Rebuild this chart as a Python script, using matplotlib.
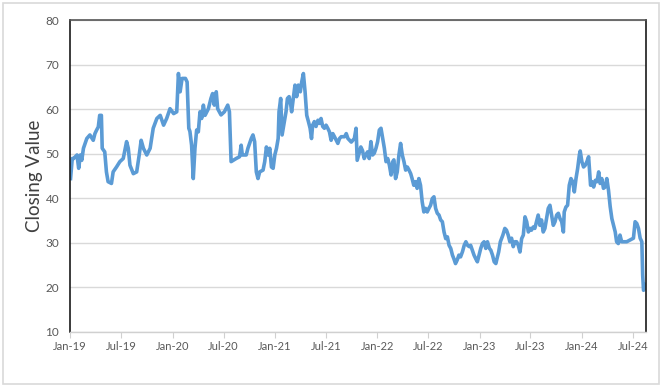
import pandas as pd
import matplotlib
matplotlib.use("Agg")
import matplotlib.pyplot as plt
import matplotlib.dates as mdates
from matplotlib.patches import Rectangle

# closing values
dates = [
    "2019-01-02", "2019-01-08", "2019-01-13", "2019-01-25", "2019-01-31", "2019-02-06",
    "2019-02-11", "2019-02-17", "2019-03-01", "2019-03-12", "2019-03-24", "2019-03-30",
    "2019-04-05", "2019-04-11", "2019-04-16", "2019-04-22", "2019-04-25", "2019-05-04",
    "2019-05-10", "2019-05-16", "2019-05-28", "2019-06-03", "2019-06-15", "2019-06-27",
    "2019-07-09", "2019-07-21", "2019-07-27", "2019-08-02", "2019-08-14", "2019-08-26",
    "2019-09-04", "2019-09-11", "2019-09-19", "2019-10-01", "2019-10-13", "2019-10-24",
    "2019-11-06", "2019-11-18", "2019-11-30", "2019-12-11", "2019-12-23", "2020-01-05",
    "2020-01-16", "2020-01-22", "2020-01-28", "2020-02-04", "2020-02-16", "2020-02-22",
    "2020-02-28", "2020-03-03", "2020-03-09", "2020-03-15", "2020-03-21", "2020-03-27",
    "2020-04-02", "2020-04-08", "2020-04-14", "2020-04-20", "2020-04-26", "2020-05-08",
    "2020-05-17", "2020-05-23", "2020-05-29", "2020-06-05", "2020-06-10", "2020-06-22",
    "2020-07-04", "2020-07-16", "2020-07-22", "2020-07-28", "2020-08-15", "2020-08-27",
    "2020-09-02", "2020-09-06", "2020-09-20", "2020-09-26", "2020-10-08", "2020-10-14",
    "2020-10-20", "2020-10-26", "2020-11-01", "2020-11-07", "2020-11-19", "2020-11-25",
    "2020-12-01", "2020-12-07", "2020-12-13", "2020-12-19", "2020-12-25", "2020-12-31",
    "2021-01-06", "2021-01-12", "2021-01-15", "2021-01-21", "2021-01-26", "2021-02-03",
    "2021-02-09", "2021-02-14", "2021-02-20", "2021-02-26", "2021-03-01", "2021-03-07",
    "2021-03-13", "2021-03-19", "2021-03-25", "2021-04-01", "2021-04-06", "2021-04-12",
    "2021-04-18", "2021-04-24", "2021-04-30", "2021-05-06", "2021-05-11", "2021-05-15",
    "2021-05-21", "2021-05-27", "2021-06-03", "2021-06-09", "2021-06-14", "2021-06-20",
    "2021-06-26", "2021-07-02", "2021-07-08", "2021-07-14", "2021-07-20", "2021-07-26",
    "2021-08-01", "2021-08-13", "2021-08-19", "2021-08-25", "2021-09-06", "2021-09-12",
    "2021-09-18", "2021-09-30", "2021-10-11", "2021-10-17", "2021-10-21", "2021-11-03",
    "2021-11-09", "2021-11-15", "2021-11-21", "2021-11-27", "2021-12-03", "2021-12-09",
    "2021-12-15", "2021-12-21", "2021-12-27", "2022-01-02", "2022-01-08", "2022-01-14",
    "2022-01-20", "2022-01-26", "2022-02-01", "2022-02-07", "2022-02-13", "2022-02-19",
    "2022-02-25", "2022-03-01", "2022-03-07", "2022-03-13", "2022-03-19", "2022-03-25",
    "2022-03-31", "2022-04-06", "2022-04-12", "2022-04-18", "2022-04-24", "2022-04-30",
    "2022-05-05", "2022-05-11", "2022-05-17", "2022-05-23", "2022-05-29", "2022-06-04",
    "2022-06-10", "2022-06-16", "2022-06-22", "2022-06-28", "2022-07-04", "2022-07-10",
    "2022-07-16", "2022-07-22", "2022-07-28", "2022-08-03", "2022-08-09", "2022-08-15",
    "2022-08-21", "2022-08-27", "2022-09-02", "2022-09-08", "2022-09-14", "2022-09-20",
    "2022-09-26", "2022-10-01", "2022-10-07", "2022-10-13", "2022-10-19", "2022-10-25",
    "2022-11-01", "2022-11-07", "2022-11-13", "2022-11-19", "2022-11-25", "2022-11-30",
    "2022-12-06", "2022-12-12", "2022-12-18", "2022-12-24", "2022-12-30", "2023-01-05",
    "2023-01-11", "2023-01-17", "2023-01-23", "2023-01-29", "2023-02-05", "2023-02-10",
    "2023-02-16", "2023-02-22", "2023-02-28", "2023-03-04", "2023-03-10", "2023-03-16",
    "2023-03-25", "2023-04-01", "2023-04-07", "2023-04-13", "2023-04-19", "2023-04-25",
    "2023-05-01", "2023-05-07", "2023-05-13", "2023-05-19", "2023-05-25", "2023-05-31",
    "2023-06-06", "2023-06-12", "2023-06-18", "2023-06-24", "2023-06-30", "2023-07-05",
    "2023-07-11", "2023-07-17", "2023-07-23", "2023-07-29", "2023-08-04", "2023-08-10",
    "2023-08-16", "2023-08-22", "2023-08-28", "2023-09-03", "2023-09-09", "2023-09-15",
    "2023-09-21", "2023-09-27", "2023-10-03", "2023-10-09", "2023-10-15", "2023-10-21",
    "2023-10-27", "2023-10-30", "2023-11-05", "2023-11-11", "2023-11-17", "2023-11-23",
    "2023-11-29", "2023-12-05", "2023-12-11", "2023-12-17", "2023-12-23", "2023-12-26",
    "2024-01-01", "2024-01-07", "2024-01-13", "2024-01-19", "2024-01-25", "2024-02-01",
    "2024-02-06", "2024-02-12", "2024-02-18", "2024-02-24", "2024-03-01", "2024-03-06",
    "2024-03-12", "2024-03-18", "2024-03-24", "2024-03-30", "2024-04-05", "2024-04-11",
    "2024-04-17", "2024-04-23", "2024-04-29", "2024-05-04", "2024-05-10", "2024-05-16",
    "2024-05-22", "2024-05-28", "2024-06-09", "2024-06-21", "2024-07-03", "2024-07-09",
    "2024-07-15", "2024-07-21", "2024-07-27", "2024-08-02", "2024-08-05", "2024-08-08",
    "2024-08-14", "2024-08-16",
]
closing = [
    44.4, 48.9, 48.9, 49.7, 46.7, 49.7,
    48.5, 51.2, 53.4, 54.2, 53.0, 54.5,
    55.3, 56.0, 58.6, 58.6, 51.2, 50.4,
    45.9, 43.7, 43.3, 45.9, 47.0, 48.2,
    48.9, 52.7, 51.2, 47.4, 45.5, 45.9,
    49.7, 53.0, 51.2, 49.7, 51.2, 55.7,
    57.9, 58.6, 56.4, 57.9, 60.1, 59.0,
    59.4, 68.0, 63.9, 66.9, 66.9, 66.1,
    55.7, 55.0, 51.9, 44.4, 51.2, 55.3,
    54.9, 59.4, 57.9, 60.9, 58.6, 60.1,
    62.4, 63.5, 60.9, 63.9, 60.1, 58.7,
    59.4, 60.9, 59.4, 48.2, 48.9, 49.3,
    51.9, 49.7, 49.7, 51.2, 53.4, 54.2,
    52.7, 45.9, 44.4, 45.9, 46.3, 48.2,
    51.5, 49.7, 51.2, 47.0, 46.7, 49.7,
    51.2, 53.4, 59.4, 62.4, 54.2, 57.2,
    59.4, 62.4, 62.8, 60.9, 59.4, 62.4,
    65.4, 62.8, 65.4, 63.9, 66.1, 68.0,
    63.9, 58.6, 57.2, 55.7, 53.4, 56.4,
    57.2, 56.1, 57.5, 56.8, 57.9, 56.1,
    55.7, 56.4, 55.7, 54.9, 53.0, 54.5,
    53.8, 52.3, 53.4, 53.8, 53.8, 54.5,
    53.4, 52.6, 53.4, 55.7, 48.5, 51.5,
    50.7, 48.9, 49.7, 50.4, 48.9, 52.7,
    49.7, 50.1, 51.2, 52.7, 55.3, 55.7,
    53.4, 51.2, 48.2, 48.9, 47.4, 45.2,
    48.2, 48.6, 44.4, 45.9, 49.7, 52.3,
    49.7, 48.2, 46.3, 47.0, 46.3, 45.5,
    44.4, 42.9, 43.7, 42.2, 44.4, 42.9,
    39.2, 36.9, 37.7, 36.9, 37.7, 38.4,
    39.9, 40.3, 37.7, 36.6, 36.2, 35.1,
    34.7, 32.4, 30.9, 31.3, 29.4, 28.7,
    27.2, 26.4, 25.3, 26.1, 27.2, 26.8,
    28.0, 29.4, 30.2, 29.4, 29.1, 29.4,
    28.3, 27.2, 26.4, 25.7, 27.2, 28.7,
    29.8, 30.2, 28.7, 30.2, 28.7, 28.3,
    27.2, 25.7, 25.3, 26.4, 27.9, 30.2,
    31.7, 33.2, 32.8, 31.7, 30.2, 31.0,
    29.1, 30.2, 30.2, 29.4, 27.9, 30.9,
    31.7, 35.8, 34.7, 32.4, 33.2, 32.8,
    33.5, 33.2, 34.7, 36.2, 33.9, 35.1,
    32.4, 33.2, 35.4, 37.7, 38.4, 36.2,
    33.9, 34.7, 36.2, 36.6, 35.4, 34.7,
    32.4, 36.9, 38.0, 38.4, 42.9, 44.4,
    43.7, 41.4, 44.4, 46.7, 49.7, 50.6,
    48.2, 47.0, 47.4, 48.2, 49.3, 42.9,
    43.7, 42.5, 44.0, 43.7, 45.9, 43.3,
    44.4, 42.2, 42.5, 44.4, 41.8, 38.1,
    35.4, 33.9, 32.4, 30.2, 29.8, 31.7,
    30.2, 30.2, 30.2, 30.6, 31.0, 34.7,
    34.3, 33.2, 31.0, 30.2, 22.7, 19.3,
    20.0, 20.6,
]
y_ticks = [10, 20, 30, 40, 50, 60, 70, 80]
x_start, x_end = "2019-01-01", "2024-08-16"

x = pd.to_datetime(dates)

plt.rcParams["font.family"] = ["Lato", "DejaVu Sans"]

fig = plt.figure(figsize=(6.63, 3.87), dpi=100)
fig.patches.append(Rectangle((0.004, 0.008), 0.99, 0.985, transform=fig.transFigure,
                             fill=False, edgecolor="#d9d9d9", linewidth=1.2))
ax = fig.add_axes([0.106, 0.143, 0.868, 0.805])

ax.plot(x, closing, color="#5b9bd5", linewidth=2.6, solid_joinstyle="round")

ax.set_xlim(pd.Timestamp(x_start), pd.Timestamp(x_end))
ax.set_ylim(y_ticks[0], y_ticks[-1])
ax.set_yticks(y_ticks)
ax.grid(axis="y", color="#d9d9d9", linewidth=1.0)
ax.set_axisbelow(True)

ax.xaxis.set_major_locator(mdates.MonthLocator(bymonth=[1, 7]))
ax.xaxis.set_major_formatter(mdates.DateFormatter("%b-%y"))

for side in ["left", "right", "top"]:
    ax.spines[side].set_color("#1a1a1a")
    ax.spines[side].set_linewidth(1.2)
ax.spines["top"].set_color("#555555")
ax.spines["bottom"].set_color("#d0d0d0")
ax.spines["bottom"].set_linewidth(1.0)

ax.tick_params(axis="x", colors="#d0d0d0", labelcolor="#595959", labelsize=8,
               length=4, pad=3)
ax.tick_params(axis="y", length=0, labelcolor="#595959", labelsize=8.5, pad=8)

ax.set_ylabel("Closing Value", fontsize=13.5, color="#404040", labelpad=2)

fig.savefig("out.png", dpi=100)
